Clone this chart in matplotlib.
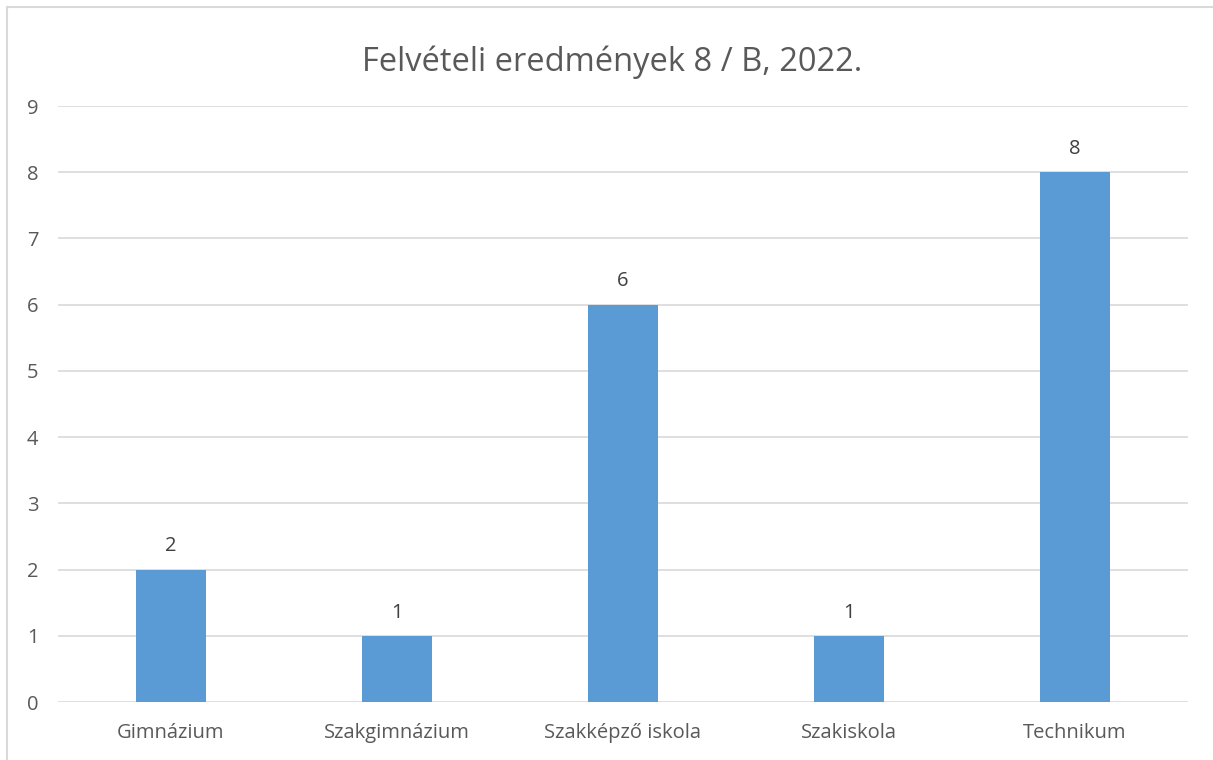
import matplotlib.pyplot as plt
from matplotlib.patches import Rectangle

categories = ['Gimnázium', 'Szakgimnázium', 'Szakképző iskola', 'Szakiskola', 'Technikum']
values = [2, 1, 6, 1, 8]
yticks = list(range(0, 10))

plt.rcParams['font.family'] = ['Open Sans', 'DejaVu Sans']
text_color = '#595959'
grid_color = '#D9D9D9'
bar_color = '#5B9BD5'

fig = plt.figure(figsize=(12.13, 7.6), dpi=100)
ax = fig.add_axes([58 / 1213, 1 - 702 / 760, (1188 - 58) / 1213, (702 - 106) / 760])

x = list(range(len(categories)))
bars = ax.bar(x, values, width=0.31, color=bar_color, zorder=3)

for xi, v in zip(x, values):
    ax.text(xi, v + 0.2, str(v), ha='center', va='bottom', fontsize=14.5, color='#404040')

ax.set_xlim(-0.5, len(categories) - 0.5)
ax.set_ylim(0, 9)
ax.set_yticks(yticks)
ax.set_xticks(x)
ax.set_xticklabels(categories)
ax.tick_params(axis='both', length=0, labelsize=14.5, labelcolor=text_color)
ax.tick_params(axis='y', pad=14)
ax.tick_params(axis='x', pad=15)
ax.grid(axis='y', color=grid_color, linewidth=1.2, zorder=0)
for s in ax.spines.values():
    s.set_visible(False)

fig.text(612 / 1213, 1 - 62 / 760, 'Felvételi eredmények 8 / B, 2022.', ha='center', va='center',
         fontsize=23.5, color=text_color)

# chart border
fig.patches.append(Rectangle((7 / 1213, -0.1), 1.2, 1.1 - 7 / 760 + 0.0, transform=fig.transFigure,
                             fill=False, edgecolor=grid_color, linewidth=1.5))

fig.savefig('out.png', dpi=100)
